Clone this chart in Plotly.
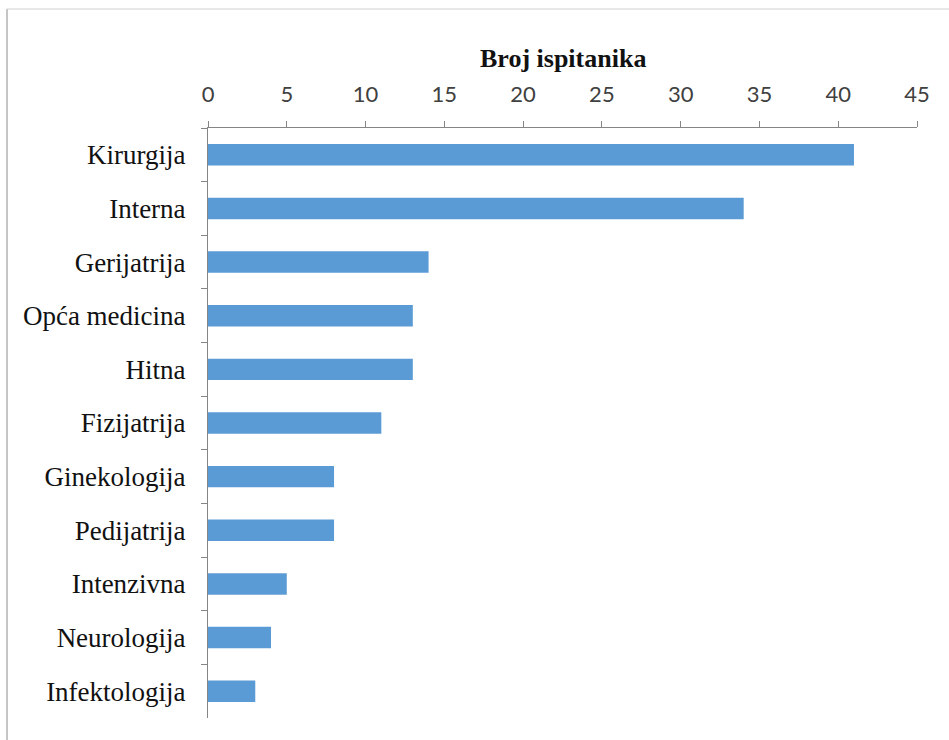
import plotly.graph_objects as go

categories = ["Kirurgija", "Interna", "Gerijatrija", "Opća medicina", "Hitna",
              "Fizijatrija", "Ginekologija", "Pedijatrija", "Intenzivna",
              "Neurologija", "Infektologija"]
values = [41, 34, 14, 13, 13, 11, 8, 8, 5, 4, 3]
x_ticks = [0, 5, 10, 15, 20, 25, 30, 35, 40, 45]
axis_title = "Broj ispitanika"

W, H = 949, 740
L, R, T, B = 208, 32, 128, 22
pw, ph = W - L - R, H - T - B

def px_x(p):
    return (p - L) / pw

def px_y(p):
    return (H - B - p) / ph

fig = go.Figure(go.Bar(
    x=values, y=categories, orientation="h",
    marker=dict(color="#5B9BD5", line=dict(width=0)),
    hoverinfo="x+y",
))

fig.update_layout(
    width=W, height=H,
    margin=dict(l=L, r=R, t=T, b=B),
    paper_bgcolor="white", plot_bgcolor="white",
    bargap=0.6,
    showlegend=False,
    xaxis=dict(
        side="top", range=[0, 45], tickvals=x_ticks,
        showgrid=False, zeroline=False,
        showline=True, linecolor="#868686", linewidth=1,
        ticks="outside", ticklen=6, tickcolor="#868686",
        tickfont=dict(family="Lato", size=22, color="#404040"),
        ticklabelstandoff=10,
    ),
    yaxis=dict(
        autorange="reversed", type="category",
        showgrid=False, zeroline=False,
        showline=True, linecolor="#868686", linewidth=1,
        ticks="outside", ticklen=6, tickcolor="#868686",
        tickson="boundaries",
        tickfont=dict(family="Liberation Serif", size=27, color="#111111"),
        ticklabelstandoff=16,
    ),
    annotations=[dict(
        text="<b>" + axis_title + "</b>", xref="paper", yref="paper",
        x=0.5, y=px_y(58), xanchor="center", yanchor="middle",
        showarrow=False, font=dict(family="Liberation Serif", size=26, color="#111111"),
    )],
    shapes=[
        dict(type="line", xref="paper", yref="paper",
             x0=px_x(7), x1=px_x(7), y0=px_y(9), y1=px_y(745),
             line=dict(color="#8c8c8c", width=1)),
        dict(type="line", xref="paper", yref="paper",
             x0=px_x(7), x1=px_x(955), y0=px_y(9), y1=px_y(9),
             line=dict(color="#d0d0d0", width=1)),
    ],
)

fig.write_html("out.html", config={"displayModeBar": False},
               post_script="document.body.style.margin='0';")
